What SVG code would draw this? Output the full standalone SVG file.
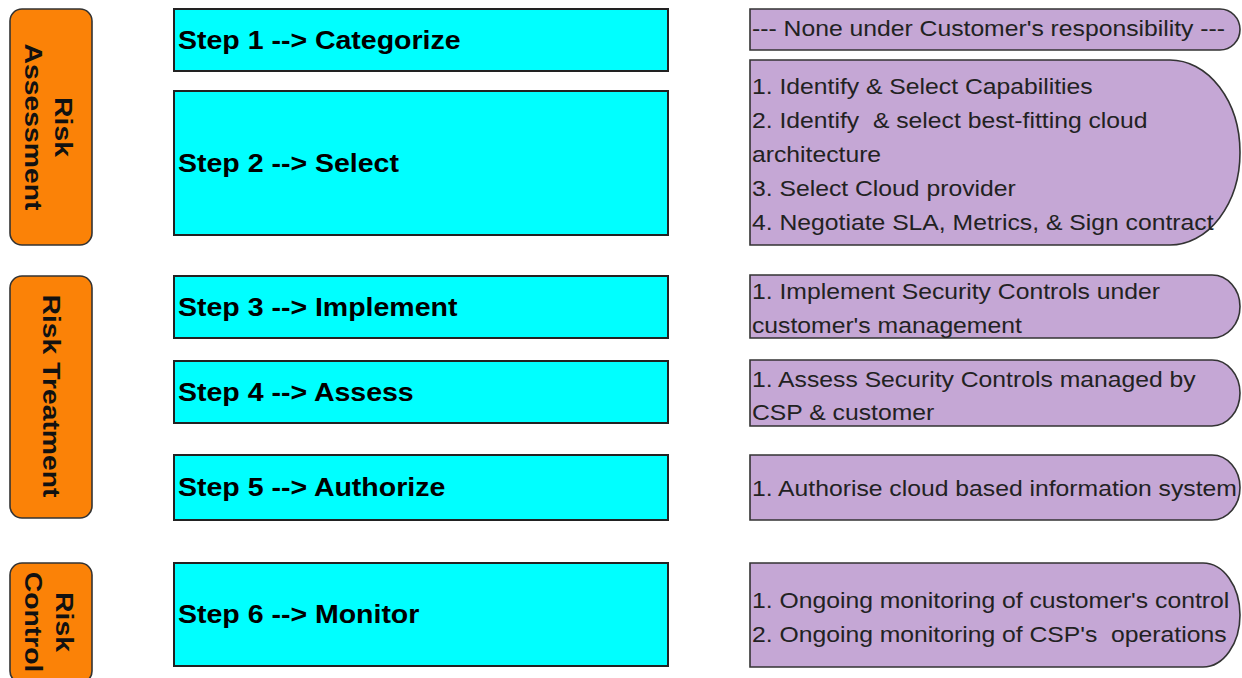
<svg xmlns="http://www.w3.org/2000/svg" width="1242" height="678" viewBox="0 0 1242 678">
  <style>
    .phase { fill: #FB8207; stroke: #333; stroke-width: 1.6; }
    .step { fill: #00FFFF; stroke: #222; stroke-width: 2; }
    .duty { fill: #C5A7D5; stroke: #333; stroke-width: 1.6; }
    .phase-t { font-family: "Liberation Sans", Arial, sans-serif; font-weight: bold; font-size: 24px; fill: #111; }
    .step-t { font-family: "Liberation Sans", Arial, sans-serif; font-weight: bold; font-size: 25px; fill: #000; }
    .duty-t { font-family: "Liberation Sans", Arial, sans-serif; font-size: 21.5px; fill: #222; white-space: pre; }
  </style>
  <rect width="1242" height="678" fill="#fff"/>

  <!-- Phase labels (vertical, reading top to bottom) -->
  <g id="phase-assessment">
    <rect class="phase" x="10" y="9" width="82" height="236" rx="12"/>
    <text class="phase-t" text-anchor="middle" transform="translate(55 127) rotate(90) scale(1.18 1)">Risk</text>
    <text class="phase-t" text-anchor="middle" transform="translate(25 127) rotate(90) scale(1.18 1)">Assessment</text>
  </g>
  <g id="phase-treatment">
    <rect class="phase" x="10" y="276" width="82" height="242" rx="12"/>
    <text class="phase-t" text-anchor="middle" transform="translate(43 396) rotate(90) scale(1.18 1)">Risk Treatment</text>
  </g>
  <g id="phase-control">
    <rect class="phase" x="10" y="563" width="82" height="120" rx="12"/>
    <text class="phase-t" text-anchor="middle" transform="translate(56 622) rotate(90) scale(1.18 1)">Risk</text>
    <text class="phase-t" text-anchor="middle" transform="translate(25 622) rotate(90) scale(1.18 1)">Control</text>
  </g>

  <!-- Framework steps -->
  <g id="step1">
    <rect class="step" x="174" y="9" width="494" height="62"/>
    <text class="step-t" transform="translate(178 49) scale(1.14 1)">Step 1 --&gt; Categorize</text>
  </g>
  <g id="step2">
    <rect class="step" x="174" y="91" width="494" height="144"/>
    <text class="step-t" transform="translate(178 172) scale(1.14 1)">Step 2 --&gt; Select</text>
  </g>
  <g id="step3">
    <rect class="step" x="174" y="276" width="494" height="62"/>
    <text class="step-t" transform="translate(178 316) scale(1.14 1)">Step 3 --&gt; Implement</text>
  </g>
  <g id="step4">
    <rect class="step" x="174" y="361" width="494" height="62"/>
    <text class="step-t" transform="translate(178 401) scale(1.14 1)">Step 4 --&gt; Assess</text>
  </g>
  <g id="step5">
    <rect class="step" x="174" y="455" width="494" height="65"/>
    <text class="step-t" transform="translate(178 496) scale(1.14 1)">Step 5 --&gt; Authorize</text>
  </g>
  <g id="step6">
    <rect class="step" x="174" y="563" width="494" height="103"/>
    <text class="step-t" transform="translate(178 623) scale(1.14 1)">Step 6 --&gt; Monitor</text>
  </g>

  <!-- Customer responsibilities (rounded right end) -->
  <g id="duty1">
    <path class="duty" d="M750,9 H1220 A20,20.5 0 0 1 1220,50 H750 Z"/>
    <text class="duty-t" transform="translate(752 36) scale(1.15 1)">--- None under Customer's responsibility ---</text>
  </g>
  <g id="duty2">
    <path class="duty" d="M750,60 H1170 A70,92.5 0 0 1 1170,245 H750 Z"/>
    <text class="duty-t" transform="translate(752 94) scale(1.15 1)">1. Identify &amp; Select Capabilities</text>
    <text class="duty-t" transform="translate(752 128) scale(1.15 1)">2. Identify  &amp; select best-fitting cloud</text>
    <text class="duty-t" transform="translate(752 162) scale(1.15 1)">architecture</text>
    <text class="duty-t" transform="translate(752 196) scale(1.15 1)">3. Select Cloud provider</text>
    <text class="duty-t" transform="translate(752 230) scale(1.15 1)">4. Negotiate SLA, Metrics, &amp; Sign contract</text>
  </g>
  <g id="duty3">
    <path class="duty" d="M750,275 H1212 A28,31.5 0 0 1 1212,338 H750 Z"/>
    <text class="duty-t" transform="translate(752 299) scale(1.15 1)">1. Implement Security Controls under</text>
    <text class="duty-t" transform="translate(752 333) scale(1.15 1)">customer's management</text>
  </g>
  <g id="duty4">
    <path class="duty" d="M750,360 H1212 A28,33 0 0 1 1212,426 H750 Z"/>
    <text class="duty-t" transform="translate(752 387) scale(1.15 1)">1. Assess Security Controls managed by</text>
    <text class="duty-t" transform="translate(752 420) scale(1.15 1)">CSP &amp; customer</text>
  </g>
  <g id="duty5">
    <path class="duty" d="M750,455 H1212 A28,32.5 0 0 1 1212,520 H750 Z"/>
    <text class="duty-t" transform="translate(752 496) scale(1.15 1)">1. Authorise cloud based information system</text>
  </g>
  <g id="duty6">
    <path class="duty" d="M750,563 H1203 A37,52 0 0 1 1203,667 H750 Z"/>
    <text class="duty-t" transform="translate(752 608) scale(1.15 1)">1. Ongoing monitoring of customer's control</text>
    <text class="duty-t" transform="translate(752 642) scale(1.15 1)">2. Ongoing monitoring of CSP's  operations</text>
  </g>

  <g id="connectors"/>
</svg>
